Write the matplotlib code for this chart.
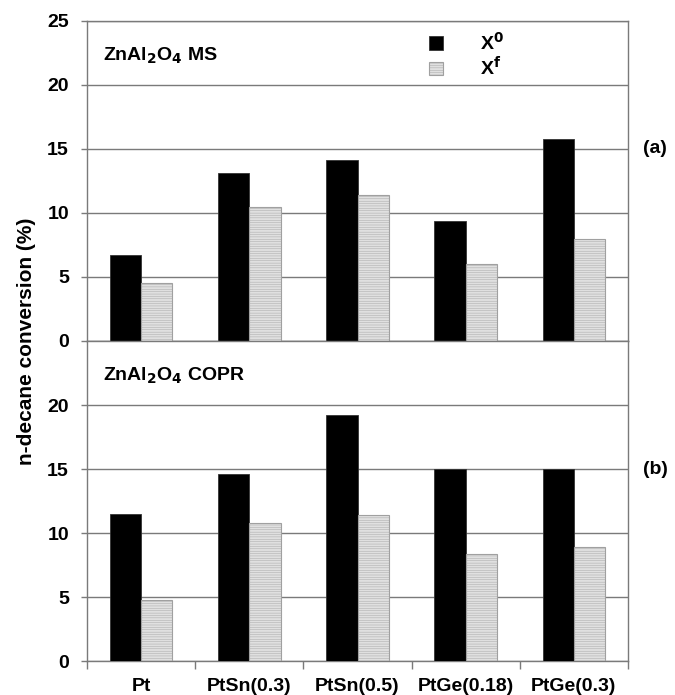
import numpy as np
import matplotlib
matplotlib.use('Agg')
from matplotlib import pyplot as plt

plt.rcParams['font.family'] = ['Liberation Sans', 'DejaVu Sans']
plt.rcParams['font.weight'] = 'bold'
plt.rcParams['mathtext.default'] = 'bf'
plt.rcParams['hatch.linewidth'] = 0.3

catalysts = ['Pt', 'PtSn(0.3)', 'PtSn(0.5)', 'PtGe(0.18)', 'PtGe(0.3)']
ms_x0 = [6.7, 13.1, 14.1, 9.4, 15.8]
ms_xf = [4.5, 10.5, 11.4, 6.0, 8.0]
copr_x0 = [11.5, 14.6, 19.2, 15.0, 15.0]
copr_xf = [4.8, 10.8, 11.4, 8.4, 8.9]

fig = plt.figure(figsize=(6.75, 6.95), dpi=100)
ax1 = fig.add_axes([0.1289, 0.5094, 0.8015, 0.4604])
ax2 = fig.add_axes([0.1289, 0.0489, 0.8015, 0.4604])

x = np.arange(len(catalysts)) + 0.5
w = 0.29

for ax, x0, xf in [(ax1, ms_x0, ms_xf), (ax2, copr_x0, copr_xf)]:
    ax.bar(x - w / 2, x0, w, color='black', edgecolor='#333333', linewidth=0.6, zorder=3, label='X$^0$')
    ax.bar(x + w / 2, xf, w, color='#e0e0e0', edgecolor='#a0a0a0', hatch='-------',
           linewidth=0.8, zorder=3, label='X$^f$')
    ax.set_xlim(0, 5)
    ax.set_ylim(0, 25)
    ax.set_yticks([0, 5, 10, 15, 20, 25])
    ax.grid(axis='y', color='#7a7a7a', linewidth=1.0, zorder=0)
    ax.set_axisbelow(True)
    for s in ax.spines.values():
        s.set_color('#7a7a7a')
        s.set_linewidth(1.0)
    ax.tick_params(axis='y', length=4, width=1, color='#7a7a7a', labelsize=14, pad=9)

ax1.set_xticks(np.arange(0, 6))
ax1.tick_params(axis='x', length=0, labelbottom=False)
ax2.set_xticks(np.arange(0, 6))
ax2.set_xticks(x, minor=True)
ax2.set_xticklabels([])
ax2.set_xticklabels(catalysts, minor=True, fontsize=14, fontweight='bold')
ax2.tick_params(axis='x', which='major', length=6, width=1, color='#7a7a7a')
ax2.tick_params(axis='x', which='minor', length=0, pad=12)
ax2.set_yticks([0, 5, 10, 15, 20])
for ax in (ax1, ax2):
    for lab in ax.get_yticklabels():
        lab.set_fontweight('bold')

ax1.text(0.03, 0.89, 'ZnAl$_\\mathbf{2}$O$_\\mathbf{4}$ MS', transform=ax1.transAxes,
         fontsize=14, fontweight='bold', va='center')
ax2.text(0.03, 0.89, 'ZnAl$_\\mathbf{2}$O$_\\mathbf{4}$ COPR', transform=ax2.transAxes,
         fontsize=14, fontweight='bold', va='center')
ax1.text(1.028, 0.6, '(a)', transform=ax1.transAxes, fontsize=14, fontweight='bold', va='center')
ax2.text(1.028, 0.6, '(b)', transform=ax2.transAxes, fontsize=14, fontweight='bold', va='center')

ax1.legend(loc='upper left', bbox_to_anchor=(0.6, 1.02), frameon=False, fontsize=14,
           handlelength=0.7, handleheight=0.7, handletextpad=1.9, labelspacing=0.1)

fig.text(0.04, 0.509, 'n-decane conversion (%)', rotation=90, fontsize=15,
         fontweight='bold', ha='center', va='center')

fig.savefig('out.png', dpi=100)
